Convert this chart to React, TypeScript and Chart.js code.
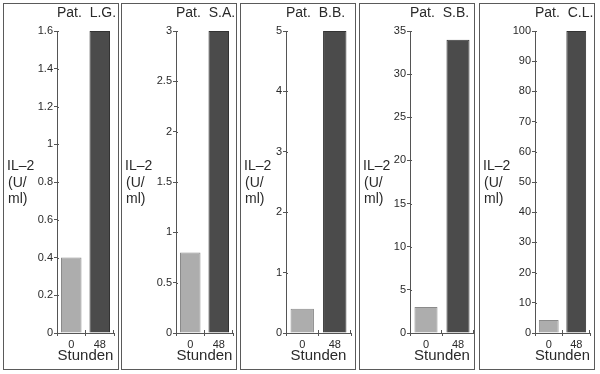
import React, { useEffect, useRef } from "react";
import { Chart, registerables } from "chart.js";

Chart.register(...registerables);

// ---- data ----
const hours = ["0", "48"];
const patientNames = ["Pat.  L.G.", "Pat.  S.A.", "Pat.  B.B.", "Pat.  S.B.", "Pat.  C.L."];
const valuesLG = [0.4, 1.6];
const valuesSA = [0.8, 3];
const valuesBB = [0.4, 5];
const valuesSB = [3, 34];
const valuesCL = [4.3, 100];
const axisMax = [1.6, 3, 5, 35, 100];
const axisStep = [0.2, 0.5, 1, 5, 10];
const yLabelLines = ["IL\u20132", "(U/", "ml)"];
const xTitle = "Stunden";

const seriesList = [valuesLG, valuesSA, valuesBB, valuesSB, valuesCL];

// ---- layout (pixels) ----
const panelLeft = [3, 121, 240, 359, 479];
const panelTop = 3;
const panelW = 116;
const panelH = 367;
const canvasW = panelW - 2;
const canvasH = panelH - 2;
const axisLeft = [53, 54, 45, 50, 55];
const plotRightPad = [4, 3, 4, 0, 4];
const plotTop = 27;
const plotBottom = 329;

const FONT = "'Liberation Sans', Arial, sans-serif";
const AXIS_COLOR = "#555";
const TEXT_COLOR = "#2a2a2a";

function Panel({ idx }: { idx: number }) {
  const ref = useRef<HTMLCanvasElement | null>(null);
  useEffect(() => {
    if (!ref.current) return;
    const textPlugin = {
      id: "panelText",
      afterDraw(chart: any) {
        const ctx = chart.ctx;
        const area = chart.chartArea;
        ctx.save();
        ctx.fillStyle = TEXT_COLOR;
        ctx.textBaseline = "middle";
        ctx.textAlign = "left";
        ctx.font = `14px ${FONT}`;
        ctx.fillText(patientNames[idx], area.left, 9);
        const ys = [162, 179, 195];
        yLabelLines.forEach((t, i) => {
          ctx.fillText(t, 3 + (i === 0 ? 0 : 1), ys[i]);
        });
        // inward halves of tick marks
        ctx.strokeStyle = AXIS_COLOR;
        ctx.lineWidth = 1;
        const ys2 = chart.scales.y;
        ys2.ticks.forEach((t: any) => {
          const py = Math.round(ys2.getPixelForValue(t.value)) + 0.5;
          ctx.beginPath();
          ctx.moveTo(area.left, py);
          ctx.lineTo(area.left + 2, py);
          ctx.stroke();
        });
        const xs = chart.scales.x;
        const n = hours.length;
        for (let i = 1; i <= n; i++) {
          const px = Math.round(xs.left + (xs.width * i) / n) - 0.5;
          ctx.beginPath();
          ctx.moveTo(px, area.bottom);
          ctx.lineTo(px, area.bottom - 3);
          ctx.stroke();
        }
        ctx.restore();
      },
    };
    const chart = new Chart(ref.current, {
      type: "bar",
      data: {
        labels: hours,
        datasets: [
          {
            data: seriesList[idx],
            backgroundColor: ["#adadad", "#4b4b4b"],
            borderColor: ["#8a8a8a", "#333333"],
            borderWidth: 1,
            barPercentage: 0.72,
            categoryPercentage: 1,
          },
        ],
      },
      options: {
        responsive: false,
        animation: false,
        layout: { padding: { top: plotTop, right: plotRightPad[idx], left: 0, bottom: 0 } },
        plugins: { legend: { display: false }, tooltip: { enabled: false }, title: { display: false } },
        scales: {
          y: {
            min: 0,
            max: axisMax[idx],
            ticks: {
              stepSize: axisStep[idx],
              color: TEXT_COLOR,
              font: { family: FONT, size: 11 },
              padding: 1,
              callback: (v: any) => String(+Number(v).toFixed(2)),
            },
            grid: { drawOnChartArea: false, drawTicks: true, tickLength: 3, color: AXIS_COLOR },
            border: { display: true, color: AXIS_COLOR, width: 1 },
            afterFit: (s: any) => {
              s.width = axisLeft[idx];
            },
          },
          x: {
            ticks: { color: TEXT_COLOR, font: { family: FONT, size: 11 }, padding: 2 },
            grid: { drawOnChartArea: false, drawTicks: true, tickLength: 3, color: AXIS_COLOR, offset: true },
            border: { display: true, color: AXIS_COLOR, width: 1 },
            title: {
              display: true,
              text: xTitle,
              color: TEXT_COLOR,
              font: { family: FONT, size: 15 },
              padding: { top: 0, bottom: 4 },
            },
            afterFit: (s: any) => {
              s.height = canvasH - plotBottom;
            },
          },
        },
      },
      plugins: [textPlugin],
    });
    return () => chart.destroy();
  }, [idx]);
  return (
    <div
      style={{
        position: "absolute",
        left: panelLeft[idx],
        top: panelTop,
        width: panelW,
        height: panelH,
        border: "1px solid #5a5a5a",
        boxSizing: "border-box",
        background: "#fff",
      }}
    >
      <canvas ref={ref} width={canvasW} height={canvasH} style={{ display: "block" }} />
    </div>
  );
}

export default function App() {
  return (
    <div
      style={{
        position: "fixed",
        left: 0,
        top: 0,
        width: 600,
        height: 374,
        background: "#fff",
        overflow: "hidden",
      }}
    >
      {patientNames.map((_, i) => (
        <Panel key={i} idx={i} />
      ))}
    </div>
  );
}
